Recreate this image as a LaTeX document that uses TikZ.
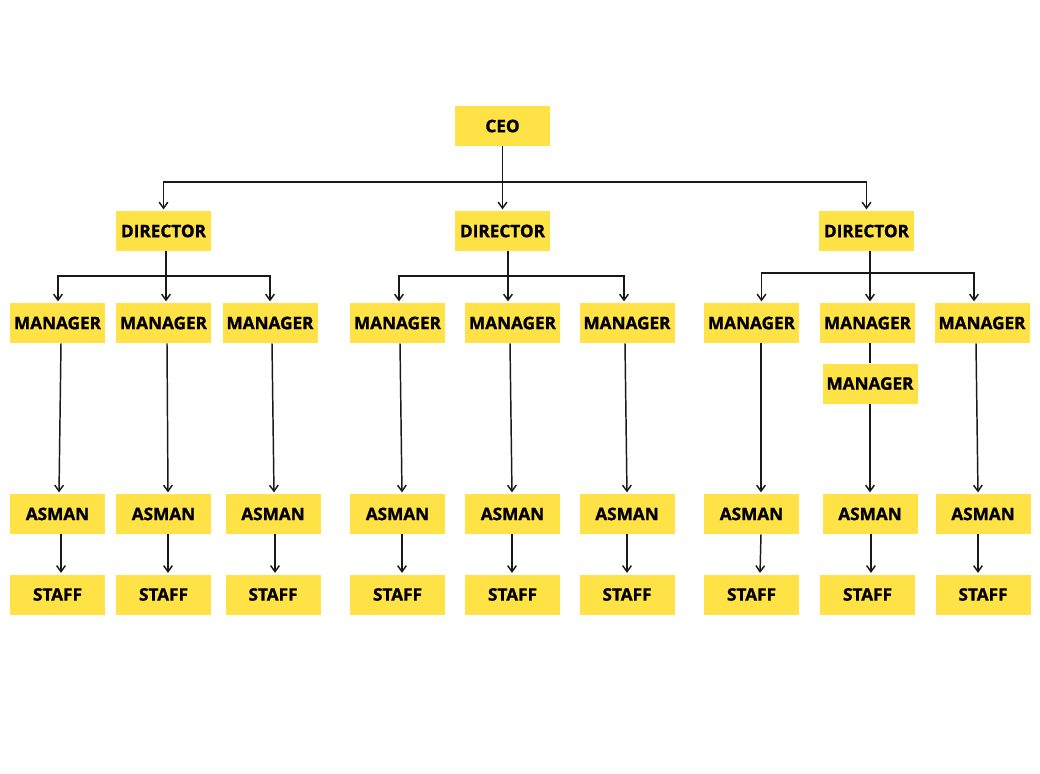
\documentclass[tikz,border=0pt]{standalone}
\usepackage{fontspec}
\setmainfont{Open Sans}[BoldFeatures={FakeBold=1.2}]
\usetikzlibrary{arrows.meta,calc}
\definecolor{boxyellow}{HTML}{FFE246}
\begin{document}
\begin{tikzpicture}[x=0.75pt,y=-0.75pt,
  box/.style={fill=boxyellow, minimum width=71.25pt, minimum height=30pt, inner sep=0pt,
    font=\bfseries\fontsize{12.9}{15}\selectfont},
  conn/.style={line width=1.1pt, draw=black!90},
  arr/.style={conn, -{Straight Barb[length=4.5pt,width=6.5pt,line width=1.1pt]}, shorten >=1pt}]
\useasboundingbox (0,0) rectangle (1040,774);

% nodes
\node[box] (ceo) at (502.5,126) {CEO};
\node[box] (d1) at (163.5,231) {DIRECTOR};
\node[box] (d2) at (502.5,231) {DIRECTOR};
\node[box] (d3) at (866.5,231) {DIRECTOR};

\foreach \i/\x in {1/57.5,2/163.5,3/270,4/397.5,5/512.5,6/627,7/751.5,8/867.5,9/982}
  \node[box] (m\i) at (\x,323) {MANAGER};
\node[box] (mx) at (870,383.5) {MANAGER};
\foreach \i/\x in {1/57.5,2/163.5,3/273,4/397.5,5/512.5,6/627,7/751.5,8/870,9/983}
  \node[box] (a\i) at (\x,514) {ASMAN};
\foreach \i/\x in {1/57.5,2/163.5,3/273,4/397.5,5/512.5,6/627,7/751.5,8/867.5,9/983}
  \node[box] (s\i) at (\x,594.5) {STAFF};

% CEO -> directors
\coordinate (cj) at (502.5,182);
\draw[arr] (ceo.south) -- (d2.north);
\draw[arr] (cj) -| (d1.north);
\draw[arr] (cj) -| (d3.north);

% director 1
\coordinate (j1) at (166,276);
\draw[conn] (d1.south -| j1) -- (j1);
\draw[arr] (j1) -| ($(m1.north)+(0.5,0)$);
\draw[arr] (j1) -- (m2.north -| j1);
\draw[arr] (j1) -| (m3.north);

% director 2
\coordinate (j2) at (508,276);
\draw[conn] (d2.south -| j2) -- (j2);
\draw[arr] (j2) -| ($(m4.north)+(1.5,0)$);
\draw[arr] (j2) -- (m5.north -| j2);
\draw[arr] (j2) -| ($(m6.north)+(-3,0)$);

% director 3
\coordinate (j3) at (870,273);
\draw[conn] (d3.south -| j3) -- (j3);
\draw[arr] (j3) -| ($(m7.north)+(10,0)$);
\draw[arr] (j3) -- (m8.north -| j3);
\draw[arr] (j3) -| ($(m9.north)+(-8,0)$);

% managers -> asman
\foreach \i/\p/\q in {1/3.5/1.5,2/3.5/4.5,3/2/1,4/2.5/4.5,5/-2.5/-0.5,6/-2/0,7/9.5/9.5,9/-6/-5}
  \draw[arr] ($(m\i.south)+(\p,0)$) -- ($(a\i.north)+(\q,0)$);
\draw[conn] ($(m8.south)+(2.5,0)$) -- (mx.north);
\draw[arr] (mx.south) -- (a8.north);

% asman -> staff
\foreach \i/\p/\q in {1/3.5/3.5,2/4.5/4.5,3/2/2,4/4.5/4.5,5/-0.5/-0.5,6/0/0,7/9.5/8.5,8/1/3.5,9/-5/-5}
  \draw[arr] ($(a\i.south)+(\p,0)$) -- ($(s\i.north)+(\q,0)$);
\end{tikzpicture}
\end{document}
